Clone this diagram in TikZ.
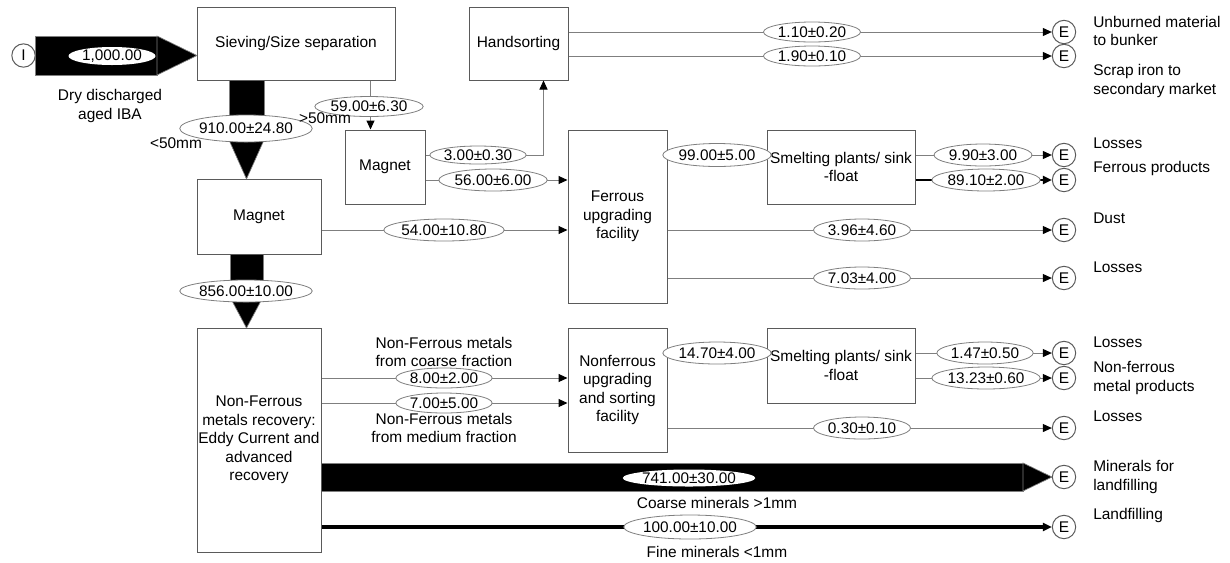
\documentclass[tikz,border=0pt]{standalone}
\usepackage{fontspec}
\setmainfont{Liberation Sans}
\usetikzlibrary{shapes.geometric,arrows.meta,calc}
\definecolor{ln}{HTML}{7F7F7F}
\definecolor{bx}{HTML}{5A5A5A}
\begin{document}
\begin{tikzpicture}[x=0.75pt,y=-0.75pt,
  font=\fontsize{11.6}{13.9}\selectfont,
  box/.style={draw=bx,line width=0.75pt,fill=white,align=center,inner sep=1pt},
  val/.style 2 args={ellipse,draw=ln,line width=0.6pt,fill=white,inner sep=0pt,
     minimum width=#1*0.75pt,minimum height=#2*0.75pt,font=\fontsize{11.5}{13}\selectfont},
  endc/.style={circle,draw=bx,line width=0.75pt,fill=white,minimum size=17.5pt,inner sep=0pt},
  flow/.style={draw=ln,line width=0.75pt,-{Triangle[length=6.75pt,width=6pt,color=black]}},
  plain/.style={draw=ln,line width=0.75pt},
  band/.style={fill=black,draw=ln,line width=0.5pt},
  lab/.style={align=left,anchor=west,inner sep=0pt},
  txt/.style={align=center,inner sep=0pt},
]
\useasboundingbox (0,0) rectangle (1230,562);
% wide flow bands
\path[band] (35,36) rectangle (157,75);
\path[band] (157,36) -- (197,55.5) -- (157,75) -- cycle;
\path[band] (229,80) rectangle (264,140);
\path[band] (229,140) -- (264,140) -- (246.5,179) -- cycle;
\path[band] (230,254) rectangle (263,297);
\path[band] (230,297) -- (263,297) -- (246.5,328) -- cycle;
\path[band] (321,463) rectangle (1023,491);
\path[band] (1023,463) -- (1052,477) -- (1023,491) -- cycle;
% process boxes
\node[box,minimum width=148.5pt,minimum height=54.75pt] (sieve) at (296,43.5) {Sieving/Size separation};
\node[box,minimum width=74.25pt,minimum height=54.75pt] (hand) at (518.5,43.5) {Handsorting};
\node[box,minimum width=60pt,minimum height=55.5pt] (magS) at (385,167) {Magnet};
\node[box,minimum width=74.25pt,minimum height=129.75pt] (ferr) at (617.5,216.5) {Ferrous\\upgrading\\facility};
\node[box,minimum width=111pt,minimum height=55.5pt] (smeltA) at (841,167) {Smelting plants/ sink\\-float};
\node[box,minimum width=93pt,minimum height=56.25pt] (magB) at (259,216.5) {Magnet};
\node[box,minimum width=93pt,minimum height=168pt] (nfr) at (259,440) {Non-Ferrous\\metals recovery:\\Eddy Current and\\advanced\\recovery};
\node[box,minimum width=74.25pt,minimum height=93pt] (nfu) at (617.5,390) {Nonferrous\\upgrading\\and sorting\\facility};
\node[box,minimum width=111pt,minimum height=56.25pt] (smeltB) at (841,365.5) {Smelting plants/ sink\\-float};
% input / end circles
\node[endc] (in) at (23.5,55.5) {I};
\node[endc] (e1) at (1064,32) {E};
\node[endc] (e2) at (1064,56) {E};
\node[endc] (e3) at (1064,155) {E};
\node[endc] (e4) at (1064,180) {E};
\node[endc] (e5) at (1064,230) {E};
\node[endc] (e6) at (1064,278) {E};
\node[endc] (e7) at (1064,353) {E};
\node[endc] (e8) at (1064,378) {E};
\node[endc] (e9) at (1064,428) {E};
\node[endc] (e10) at (1064,477) {E};
\node[endc] (e11) at (1064,527) {E};
% connectors
\draw[flow] (hand.east |- e1) -- (e1);
\draw[flow] (hand.east |- e2) -- (e2);
\draw[flow] ([xshift=-18.75pt]sieve.south east) -- ([xshift=-18.75pt]sieve.south east |- magS.north);
\draw[flow] (magS.east |- 0,155) -| ([xshift=18.75pt]hand.south);
\draw[flow] (magS.east |- 0,180) -- (ferr.west |- 0,180);
\draw[flow] (magB.east |- 0,230) -- (ferr.west |- 0,230);
\draw[plain] (ferr.east |- 0,155) -- (smeltA.west |- 0,155);
\draw[flow] (smeltA.east |- e3) -- (e3);
\draw[flow,draw=black,line width=1.6pt] (smeltA.east |- e4) -- (e4);
\draw[flow] (ferr.east |- e5) -- (e5);
\draw[flow] (ferr.east |- e6) -- (e6);
\draw[flow] (nfr.east |- 0,378) -- (nfu.west |- 0,378);
\draw[flow] (nfr.east |- 0,403) -- (nfu.west |- 0,403);
\draw[plain] (nfu.east |- 0,353) -- (smeltB.west |- 0,353);
\draw[flow] (smeltB.east |- e7) -- (e7);
\draw[flow] (smeltB.east |- e8) -- (e8);
\draw[flow] (nfu.east |- e9) -- (e9);
\draw[flow,draw=black,line width=2.3pt] (nfr.east |- e11) -- (e11);
% flow values
\node[val={87}{18},draw=none] (vin) at (112,56) {1,000.00};
\node[val={122}{27}] (v910) at (246,128.5) {910.00±24.80};
\node[val={102}{20}] (v59) at (369,106.5) {59.00±6.30};
\node[val={96}{18}] (v3) at (478,155) {3.00±0.30};
\node[val={105}{22}] (v56) at (493,180) {56.00±6.00};
\node[val={115}{22}] (v54) at (444,230) {54.00±10.80};
\node[val={100}{23}] (v99) at (717,155) {99.00±5.00};
\node[val={97}{20}] (v110) at (812,32) {1.10±0.20};
\node[val={97}{20}] (v190) at (812,56) {1.90±0.10};
\node[val={98}{22}] (v990) at (983,155) {9.90±3.00};
\node[val={107}{22}] (v891) at (986,180) {89.10±2.00};
\node[val={97}{22}] (v396) at (862,230) {3.96±4.60};
\node[val={97}{22}] (v703) at (862,278) {7.03±4.00};
\node[val={122}{22}] (v856) at (246,291) {856.00±10.00};
\node[val={96}{20}] (v8) at (444,378) {8.00±2.00};
\node[val={96}{20}] (v7) at (444,403) {7.00±5.00};
\node[val={100}{22}] (v1470) at (717,353) {14.70±4.00};
\node[val={95}{22}] (v147) at (985,353) {1.47±0.50};
\node[val={106}{22}] (v1323) at (986,378) {13.23±0.60};
\node[val={97}{22}] (v030) at (862,428) {0.30±0.10};
\node[val={120}{17},draw=none] (v741) at (689,478) {741.00±30.00};
\node[val={123}{24}] (v100) at (690,527) {100.00±10.00};
% labels
\node[txt] (tdry) at (110,106) {Dry discharged\\aged IBA};
\node[txt] (tlt50) at (176,143) {<50mm};
\node[txt] (tgt50) at (325,118) {>50mm};
\node[txt] (tnfc) at (444,352) {Non-Ferrous metals\\from coarse fraction};
\node[txt] (tnfm) at (444,428) {Non-Ferrous metals\\from medium fraction};
\node[txt] (tcm) at (717,503) {Coarse minerals >1mm};
\node[txt] (tfm) at (717,552) {Fine minerals <1mm};
\node[lab] (l1) at (1093,31) {Unburned material\\to bunker};
\node[lab] (l2) at (1093,81) {Scrap iron to\\secondary market};
\node[lab] (l3) at (1093,143) {Losses};
\node[lab] (l4) at (1093,168) {Ferrous products};
\node[lab] (l5) at (1093,218) {Dust};
\node[lab] (l6) at (1093,267) {Losses};
\node[lab] (l7) at (1093,342) {Losses};
\node[lab] (l8) at (1093,378) {Non-ferrous\\metal products};
\node[lab] (l9) at (1093,416) {Losses};
\node[lab] (l10) at (1093,477) {Minerals for\\landfilling};
\node[lab] (l11) at (1093,515) {Landfilling};
\end{tikzpicture}
\end{document}
